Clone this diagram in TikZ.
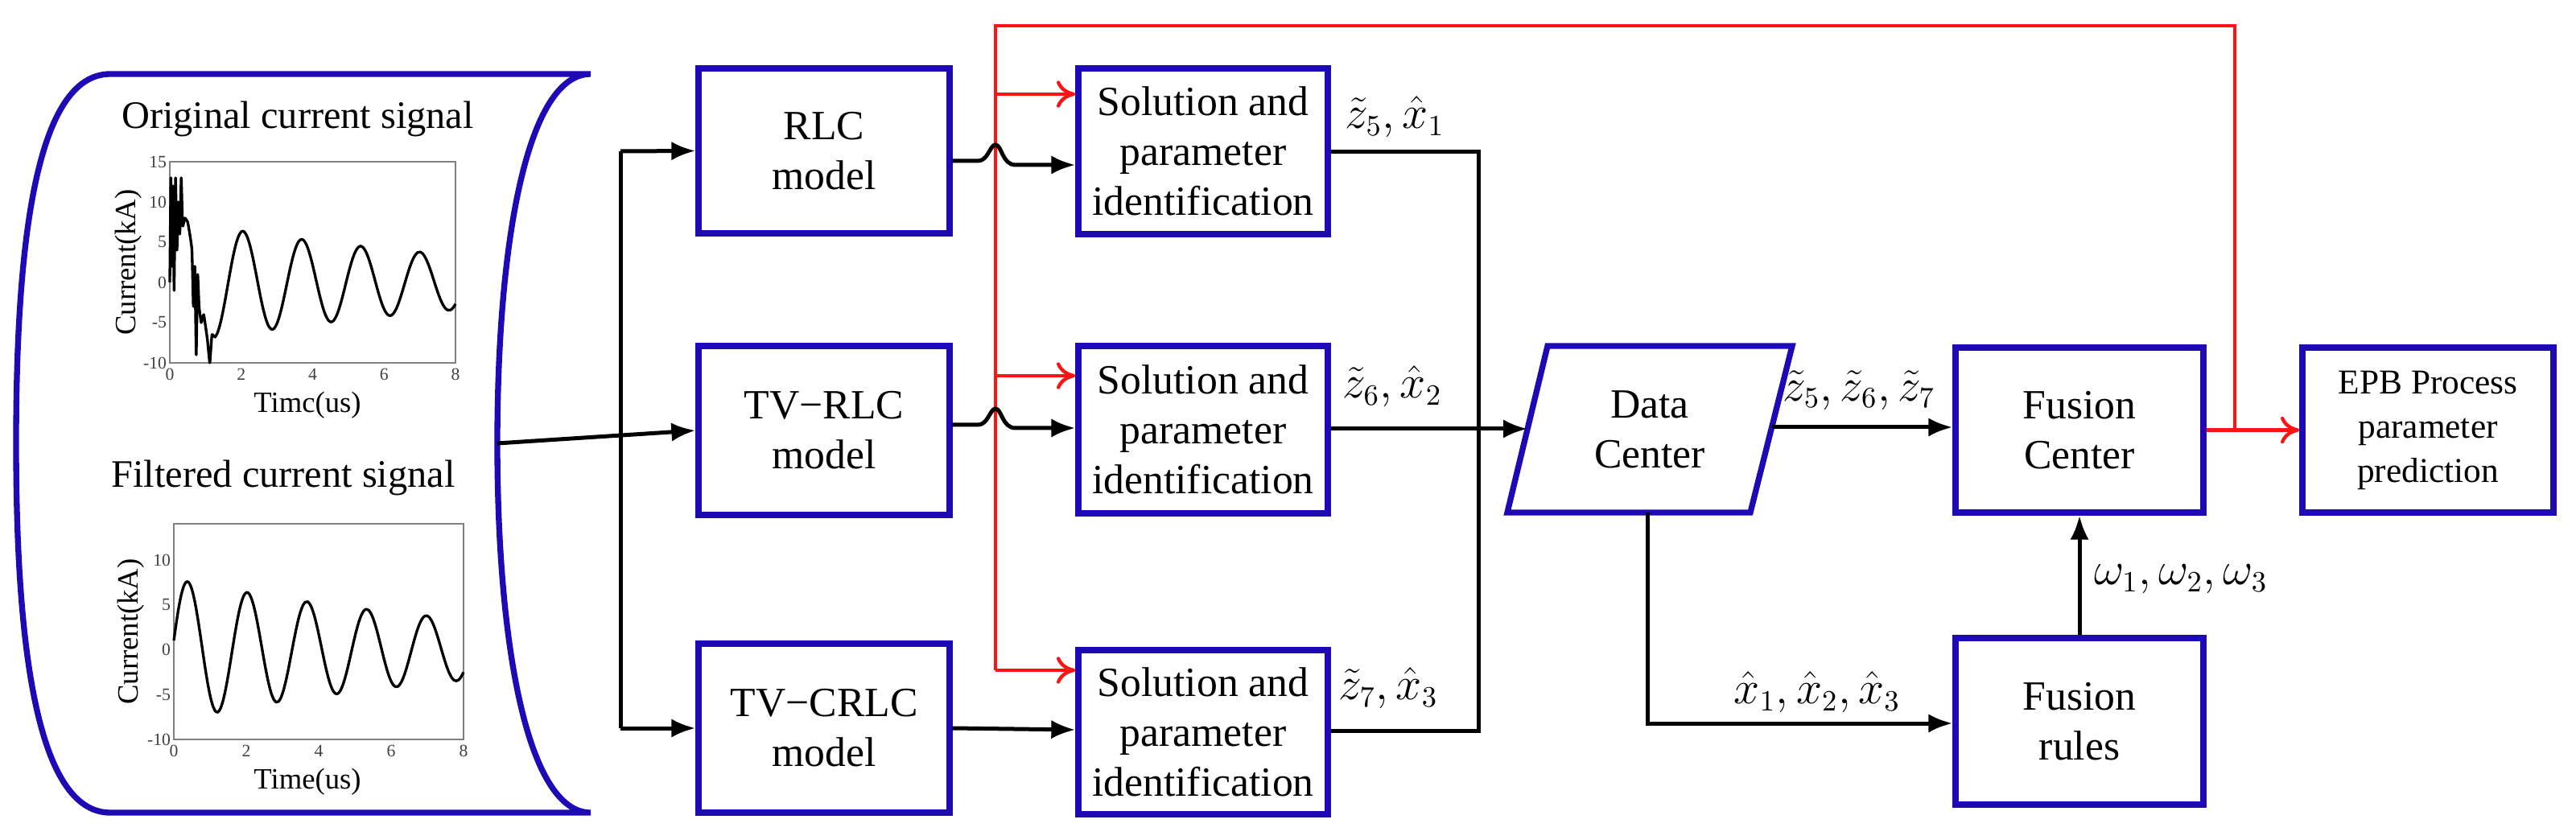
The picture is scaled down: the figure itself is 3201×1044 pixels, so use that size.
\documentclass[tikz,border=0pt]{standalone}
\usepackage{fontspec}
\setmainfont{Liberation Serif}
\usetikzlibrary{arrows.meta}
\definecolor{bblue}{RGB}{30,10,180}
\definecolor{rred}{RGB}{250,20,20}
\begin{document}
\begin{tikzpicture}[x=0.3pt,y=-0.3pt,
  box/.style={draw=bblue,line width=2.2pt,inner sep=0pt,align=center,font=\fontsize{15.5}{18.6}\selectfont},
  blk/.style={line width=1.5pt,-{Latex[length=9pt,width=7pt]}},
  bln/.style={line width=1.5pt},
  red/.style={draw=rred,line width=1.3pt},
  redar/.style={red,-{To[length=7pt,width=10pt,line width=1.3pt]}},
  lab/.style={font=\fontsize{16}{18}\selectfont},
  tick/.style={font=\fontsize{6.5}{7}\selectfont,text=black!75},
  axl/.style={font=\fontsize{11}{12}\selectfont}]
\useasboundingbox (0,0) rectangle (3201,1044);
% left data shape
\draw[draw=bblue,line width=2.2pt] (734,92) -- (137,92) .. controls (45,92) and (20,300) .. (20,551) .. controls (20,800) and (45,1010) .. (137,1010) -- (734,1010) .. controls (655,1010) and (618,800) .. (618,551) .. controls (618,300) and (655,92) .. (734,92);
\coordinate (src) at (618,551);
% plot 1
\node[font=\fontsize{14.5}{16}\selectfont] (t1) at (370,148) {Original current signal};
\draw[black!50,line width=0.5pt] (211,201) rectangle (566,451);
\foreach \v/\l in {15/15,10/10,5/5,0/0,-5/-5,-10/-10}{\node[tick,anchor=east,inner sep=1pt] at (211,{451-(\v+10)*10}) {\l};}
\foreach \t in {0,2,4,6,8}{\node[tick,anchor=north,inner sep=2pt] at ({211+\t*44.375},451) {\t};}
\node[axl,rotate=90] at (160,326) {Current(kA)};
\node[axl] at (382,504) {Timc(us)};
\begin{scope}[x=13.3125pt,y=-3pt,shift={(211,451)}]
\draw[line width=1pt,line join=round,x=0.3pt,y=-0.3pt] (211,451);
\end{scope}
\draw[line width=1pt,line join=round] plot[smooth,tension=0.2] coordinates {
 ({211+0*44.375},{451-(10+0)*10}) ({211+0.03*44.375},{451-(10+13)*10}) ({211+0.06*44.375},{451-(10+2)*10})
 ({211+0.09*44.375},{451-(10+12)*10}) ({211+0.12*44.375},{451-(10-1)*10}) ({211+0.16*44.375},{451-(10+13)*10})
 ({211+0.2*44.375},{451-(10+4)*10}) ({211+0.24*44.375},{451-(10+10)*10}) ({211+0.28*44.375},{451-(10+6)*10})
 ({211+0.32*44.375},{451-(10+13)*10}) ({211+0.36*44.375},{451-(10+7)*10}) ({211+0.42*44.375},{451-(10+8)*10})
 ({211+0.5*44.375},{451-(10+7.5)*10}) ({211+0.56*44.375},{451-(10+6)*10}) ({211+0.62*44.375},{451-(10+4)*10})
 ({211+0.66*44.375},{451-(10-3)*10}) ({211+0.7*44.375},{451-(10+2)*10}) ({211+0.74*44.375},{451-(10-9)*10})
 ({211+0.78*44.375},{451-(10+1)*10}) ({211+0.82*44.375},{451-(10-3)*10}) ({211+0.88*44.375},{451-(10-5)*10})
 ({211+0.95*44.375},{451-(10-4)*10}) ({211+1.05*44.375},{451-(10-7)*10}) ({211+1.12*44.375},{451-(10-10)*10})
 ({211+1.18*44.375},{451-(10-6.5)*10}) ({211+1.25*44.375},{451-(10-6.8)*10})};
\draw[line width=1pt] plot[domain=1.25:8,samples=90,smooth] ({211+\x*44.375},{451-(10+7.9*exp(-0.105*\x)*sin(deg(2*pi*\x/1.65+0.05)))*10});
% plot 2
\node[font=\fontsize{14.5}{16}\selectfont] (t2) at (352,594) {Filtered current signal};
\draw[black!50,line width=0.5pt] (216,651) rectangle (576,919);
\foreach \v in {10,5,0,-5,-10}{\node[tick,anchor=east,inner sep=1pt] at (216,{919-(\v+10)*11.15}) {\v};}
\foreach \t in {0,2,4,6,8}{\node[tick,anchor=north,inner sep=2pt] at ({216+\t*45},919) {\t};}
\node[axl,rotate=90] at (163,785) {Current(kA)};
\node[axl] at (382,972) {Time(us)};
\draw[line width=1pt] plot[domain=0:8,samples=120,smooth] ({216+\x*45},{919-(10+7.9*exp(-0.105*\x)*sin(deg(2*pi*\x/1.65+0.13)))*11.15});
% boxes
\node[box,minimum width=93.6pt,minimum height=61.5pt] (rlc) at (1024,187.5) {RLC\\model};
\node[box,minimum width=93.6pt,minimum height=63pt] (tvrlc) at (1024,535) {TV\textminus RLC\\model};
\node[box,minimum width=93.6pt,minimum height=63pt] (tvcrlc) at (1024,905) {TV\textminus CRLC\\model};
\node[box,minimum width=93pt,minimum height=61.8pt] (s1) at (1495,188) {Solution and\\parameter\\identification};
\node[box,minimum width=93pt,minimum height=62.4pt] (s2) at (1495,534) {Solution and\\parameter\\identification};
\node[box,minimum width=93pt,minimum height=61.2pt] (s3) at (1495,910) {Solution and\\parameter\\identification};
\coordinate (d1) at (1873,637); \coordinate (d2) at (2175,637);
\coordinate (d3) at (2227,430); \coordinate (d4) at (1923,430);
\draw[draw=bblue,line width=2.2pt,line join=miter] (d1) -- (d2) -- (d3) -- (d4) -- cycle;
\node[box,draw=none] (dc) at (2050,534) {Data\\Center};
\coordinate (dcin) at (1898,533); \coordinate (dcout) at (2202,531); \coordinate (dcbot) at (2047,637);
\node[box,minimum width=92.4pt,minimum height=61.5pt] (fc) at (2584,534.5) {Fusion\\Center};
\node[box,minimum width=92.4pt,minimum height=62.1pt] (fr) at (2584,896.5) {Fusion\\rules};
\node[box,minimum width=93.6pt,minimum height=61.5pt,font=\fontsize{13}{16.5}\selectfont] (epb) at (3017,534.5) {EPB Process\\parameter\\prediction};
% fork
\draw[blk] (src) -- (tvrlc.west);
\draw[blk] (771,188) -- (rlc.west);
\draw[blk] (771,905) -- (tvcrlc.west);
\draw[bln] (771,188) -- (771,905);
% red
\coordinate (rv) at (2777,534.5);
\draw[red] (rv) -- (2777,32) -- (1237,32) -- (1237,833);
\draw[redar] (1237,117) -- (s1.west|-0,117);
\draw[redar] (1237,467) -- (s2.west|-0,467);
\draw[redar] (1237,833) -- (s3.west|-0,833);
\draw[redar] (fc.east) -- (epb.west);
% jumps
\draw[blk] (rlc.east|-0,200) -- (1215,200) .. controls (1228,200) and (1230,180) .. (1237,180) .. controls (1245,180) and (1245,205) .. (1262,205) -- (s1.west|-0,205);
\draw[blk] (tvrlc.east|-0,528) -- (1215,528) .. controls (1228,528) and (1230,508) .. (1237,508) .. controls (1245,508) and (1245,532) .. (1262,532) -- (s2.west|-0,532);
\draw[blk] (tvcrlc.east|-0,905) -- (s3.west|-0,907);
% outputs
\draw[bln] (s1.east|-0,189) -- (1837,189) -- (1837,908) -- (s3.east|-0,908);
\draw[blk] (s2.east|-0,533) -- (dcin);
\draw[blk] (dcout) -- (fc.west|-0,531);
\draw[blk] (dcbot) -- (2047,899) -- (fr.west|-0,899);
\draw[blk] (fr.north) -- (fc.south);
% labels
\node[lab] (l1) at (1733,145) {$\tilde z_5,\hat x_1$};
\node[lab] (l2) at (1730,480) {$\tilde z_6,\hat x_2$};
\node[lab] (l3) at (1725,855) {$\tilde z_7,\hat x_3$};
\node[lab] (l4) at (2310,485) {$\tilde z_5,\tilde z_6,\tilde z_7$};
\node[lab] (l5) at (2258,860) {$\hat x_1,\hat x_2,\hat x_3$};
\node[lab] (l6) at (2710,720) {$\omega_1,\omega_2,\omega_3$};
\end{tikzpicture}
\end{document}
